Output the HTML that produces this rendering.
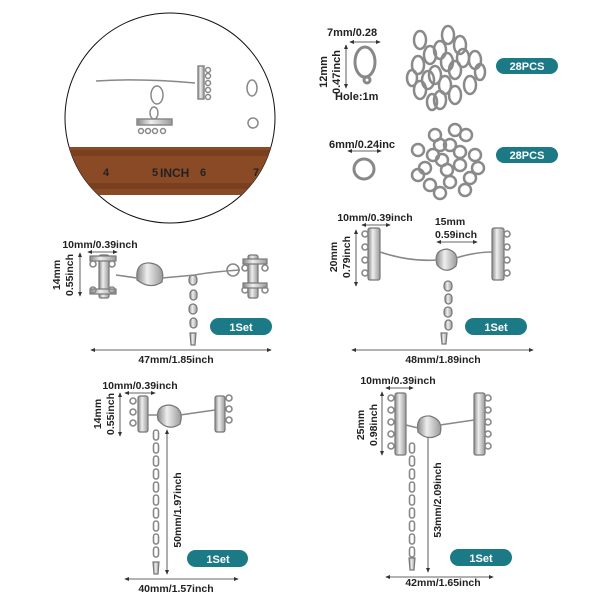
<!DOCTYPE html>
<html><head><meta charset="utf-8"><style>
body{margin:0;background:#fff}
svg{display:block}
text{font-family:"Liberation Sans",sans-serif;font-weight:bold;fill:#222}
.b text{fill:#fff}
</style></head><body>
<svg width="600" height="600" viewBox="0 0 600 600" xmlns="http://www.w3.org/2000/svg">
<defs>
<marker id="a" markerWidth="6" markerHeight="6" refX="5" refY="3" orient="auto-start-reverse"><path d="M0,0.5 L6,3 L0,5.5z" fill="#333"/></marker>
<linearGradient id="m" x1="0" x2="1"><stop offset="0" stop-color="#888"/><stop offset="0.4" stop-color="#eee"/><stop offset="1" stop-color="#999"/></linearGradient>
<clipPath id="c"><circle cx="170" cy="118" r="105"/></clipPath>
<pattern id="ch" width="8" height="13" patternUnits="userSpaceOnUse"><rect x="1.5" y="1" width="5" height="10" rx="2.5" fill="none" stroke="#888" stroke-width="1.6"/></pattern>
</defs>
<circle cx="170" cy="118" r="105" fill="#fff" stroke="#111" stroke-width="1"/>
<g clip-path="url(#c)">
<rect x="60" y="147" width="220" height="48" fill="#8a4a26"/>
<rect x="60" y="150" width="220" height="6" fill="#7a3f1f"/>
<rect x="60" y="183" width="220" height="6" fill="#7a3f1f"/>
<text x="103" y="176" font-size="11" font-weight="normal" style="fill:#222">4</text>
<text x="152" y="176" font-size="11" font-weight="normal" style="fill:#222">5</text>
<text x="160" y="177" font-size="12">INCH</text>
<text x="200" y="176" font-size="11" font-weight="normal" style="fill:#222">6</text>
<text x="253" y="176" font-size="11" font-weight="normal" style="fill:#222">7</text>
</g>
<g fill="none" stroke="#888" stroke-width="1.5">
<path d="M96,81 Q140,78 195,83"/>
<rect x="198" y="66" width="6" height="33" fill="url(#m)"/>
<circle cx="208" cy="70" r="2.5"/><circle cx="208" cy="76" r="2.5"/><circle cx="208" cy="83" r="2.5"/><circle cx="208" cy="90" r="2.5"/><circle cx="208" cy="97" r="2.5"/>
<ellipse cx="157" cy="95" rx="6" ry="9"/>
<ellipse cx="154" cy="113" rx="4" ry="6"/>
<rect x="137" y="119" width="35" height="6" fill="url(#m)"/>
<circle cx="141" cy="131" r="2.5"/><circle cx="148" cy="131" r="2.5"/><circle cx="155" cy="131" r="2.5"/><circle cx="163" cy="131" r="2.5"/>
<ellipse cx="252" cy="88" rx="5" ry="8"/>
<circle cx="253" cy="123" r="5"/>
</g>
<g font-size="11">
<text x="327" y="36">7mm/0.28</text>
<text x="335" y="100">Hole:1m</text>
<text x="329" y="148">6mm/0.24inc</text>
<text transform="translate(327,72) rotate(-90)" text-anchor="middle">12mm</text>
<text transform="translate(340,72) rotate(-90)" text-anchor="middle">0.47inch</text>
</g>
<g stroke="#333" stroke-width="0.8" fill="none">
<line x1="350" y1="42" x2="380" y2="42" marker-start="url(#a)" marker-end="url(#a)"/>
<line x1="346" y1="45" x2="346" y2="88" marker-start="url(#a)" marker-end="url(#a)"/>
<line x1="348" y1="151" x2="381" y2="151" marker-start="url(#a)" marker-end="url(#a)"/>
</g>
<g fill="none" stroke="#888" stroke-width="3">
<ellipse cx="365" cy="62" rx="10" ry="15"/>
<circle cx="367" cy="80" r="3"/>
<circle cx="364" cy="169" r="10"/>
</g>
<g fill="none" stroke="#8a8a8a" stroke-width="2.5">
<ellipse cx="420" cy="40" rx="6" ry="9"/><ellipse cx="440" cy="50" rx="6" ry="9"/><ellipse cx="460" cy="45" rx="6" ry="9"/><ellipse cx="475" cy="60" rx="6" ry="9"/>
<ellipse cx="418" cy="65" rx="6" ry="9"/><ellipse cx="435" cy="75" rx="6" ry="9"/><ellipse cx="455" cy="70" rx="6" ry="9"/><ellipse cx="470" cy="85" rx="6" ry="9"/>
<ellipse cx="420" cy="90" rx="6" ry="9"/><ellipse cx="440" cy="100" rx="6" ry="9"/><ellipse cx="455" cy="95" rx="6" ry="9"/><ellipse cx="430" cy="55" rx="6" ry="9"/>
<ellipse cx="448" cy="35" rx="6" ry="9"/><ellipse cx="428" cy="80" rx="6" ry="9"/><ellipse cx="463" cy="58" rx="6" ry="9"/><ellipse cx="445" cy="85" rx="6" ry="9"/><ellipse cx="412" cy="78" rx="5" ry="8"/><ellipse cx="480" cy="72" rx="5" ry="8"/><ellipse cx="432" cy="102" rx="5" ry="8"/><ellipse cx="447" cy="62" rx="6" ry="9"/>
<circle cx="418" cy="150" r="6"/><circle cx="435" cy="135" r="6"/><circle cx="450" cy="145" r="6"/><circle cx="466" cy="135" r="6"/><circle cx="475" cy="155" r="6"/>
<circle cx="425" cy="168" r="6"/><circle cx="442" cy="160" r="6"/><circle cx="460" cy="165" r="6"/><circle cx="470" cy="178" r="6"/><circle cx="430" cy="185" r="6"/><circle cx="450" cy="182" r="6"/><circle cx="440" cy="145" r="6"/>
<circle cx="455" cy="130" r="6"/><circle cx="433" cy="155" r="6"/><circle cx="460" cy="152" r="6"/><circle cx="418" cy="175" r="6"/><circle cx="447" cy="170" r="6"/><circle cx="465" cy="190" r="6"/><circle cx="440" cy="193" r="6"/><circle cx="478" cy="168" r="6"/>
</g>
<g class="b" font-size="11">
<rect x="496" y="58" width="62" height="16" rx="8" fill="#1c7a87"/><text x="527" y="70" text-anchor="middle">28PCS</text>
<rect x="496" y="147" width="62" height="16" rx="8" fill="#1c7a87"/><text x="527" y="159" text-anchor="middle">28PCS</text>
<rect x="210" y="318" width="62" height="17" rx="8.5" fill="#1c7a87"/><text x="241" y="331" text-anchor="middle">1Set</text>
<rect x="465" y="318" width="62" height="17" rx="8.5" fill="#1c7a87"/><text x="496" y="331" text-anchor="middle">1Set</text>
<rect x="187" y="550" width="61" height="17" rx="8.5" fill="#1c7a87"/><text x="218" y="563" text-anchor="middle">1Set</text>
<rect x="450" y="549" width="62" height="17" rx="8.5" fill="#1c7a87"/><text x="481" y="562" text-anchor="middle">1Set</text>
</g>
<g font-size="10.5">
<text x="100" y="248" text-anchor="middle">10mm/0.39inch</text>
<text x="176" y="363" text-anchor="middle">47mm/1.85inch</text>
<text transform="translate(60,275) rotate(-90)" text-anchor="middle">14mm</text>
<text transform="translate(73,275) rotate(-90)" text-anchor="middle">0.55inch</text>
<text x="375" y="221" text-anchor="middle">10mm/0.39inch</text>
<text x="450" y="225" text-anchor="middle">15mm</text>
<text x="456" y="238" text-anchor="middle">0.59inch</text>
<text x="443" y="363" text-anchor="middle">48mm/1.89inch</text>
<text transform="translate(337,257) rotate(-90)" text-anchor="middle">20mm</text>
<text transform="translate(350,257) rotate(-90)" text-anchor="middle">0.79inch</text>
<text x="140" y="389" text-anchor="middle">10mm/0.39inch</text>
<text x="176" y="592" text-anchor="middle">40mm/1.57inch</text>
<text transform="translate(101,414) rotate(-90)" text-anchor="middle">14mm</text>
<text transform="translate(114,414) rotate(-90)" text-anchor="middle">0.55inch</text>
<text transform="translate(181,510) rotate(-90)" text-anchor="middle">50mm/1.97inch</text>
<text x="398" y="384" text-anchor="middle">10mm/0.39inch</text>
<text x="443" y="586" text-anchor="middle">42mm/1.65inch</text>
<text transform="translate(364,425) rotate(-90)" text-anchor="middle">25mm</text>
<text transform="translate(377,425) rotate(-90)" text-anchor="middle">0.98inch</text>
<text transform="translate(441,500) rotate(-90)" text-anchor="middle">53mm/2.09inch</text>
</g>
<g stroke="#333" stroke-width="0.8" fill="none">
<line x1="88" y1="252" x2="117" y2="252" marker-start="url(#a)" marker-end="url(#a)"/>
<line x1="80" y1="253" x2="80" y2="296" marker-start="url(#a)" marker-end="url(#a)"/>
<line x1="91" y1="350" x2="271" y2="350" marker-start="url(#a)" marker-end="url(#a)"/>
<line x1="362" y1="225" x2="390" y2="225" marker-start="url(#a)" marker-end="url(#a)"/>
<line x1="437" y1="242" x2="477" y2="242" marker-start="url(#a)" marker-end="url(#a)"/>
<line x1="356" y1="230" x2="356" y2="286" marker-start="url(#a)" marker-end="url(#a)"/>
<line x1="352" y1="350" x2="533" y2="350" marker-start="url(#a)" marker-end="url(#a)"/>
<line x1="125" y1="393" x2="155" y2="393" marker-start="url(#a)" marker-end="url(#a)"/>
<line x1="120" y1="393" x2="120" y2="436" marker-start="url(#a)" marker-end="url(#a)"/>
<line x1="167" y1="430" x2="167" y2="574" marker-start="url(#a)" marker-end="url(#a)"/>
<line x1="125" y1="579" x2="238" y2="579" marker-start="url(#a)" marker-end="url(#a)"/>
<line x1="386" y1="388" x2="413" y2="388" marker-start="url(#a)" marker-end="url(#a)"/>
<line x1="382" y1="392" x2="382" y2="455" marker-start="url(#a)" marker-end="url(#a)"/>
<line x1="428" y1="428" x2="428" y2="572" marker-start="url(#a)" marker-end="url(#a)"/>
<line x1="386" y1="577" x2="493" y2="577" marker-start="url(#a)" marker-end="url(#a)"/>
</g>
<g stroke="#777" stroke-width="1.2" fill="url(#m)">
<rect x="99" y="255" width="10" height="43" rx="2"/>
<rect x="90" y="256" width="26" height="5"/><rect x="90" y="289" width="26" height="5"/>
<rect x="248" y="255" width="10" height="43" rx="2"/>
<rect x="243" y="259" width="24" height="5"/><rect x="243" y="283" width="24" height="5"/>
<path d="M137,280 Q135,262 150,263 Q166,265 162,282 Q150,290 137,280z"/>
<rect x="189" y="275" width="8" height="10" rx="4"/><rect x="190" y="290" width="7" height="10" rx="3.5"/><rect x="189" y="304" width="8" height="10" rx="4"/><rect x="190" y="318" width="7" height="10" rx="3.5"/>
<path d="M190,333 L196,333 L195,345 L191,345z"/>
<rect x="368" y="228" width="12" height="52" rx="2"/>
<rect x="492" y="228" width="12" height="52" rx="2"/>
<path d="M437,265 Q433,250 447,249 Q460,252 456,266 Q446,275 437,265z"/>
<rect x="444" y="281" width="8" height="10" rx="4"/><rect x="445" y="294" width="7" height="10" rx="3.5"/><rect x="444" y="307" width="8" height="10" rx="4"/><rect x="445" y="320" width="7" height="10" rx="3.5"/>
<path d="M441,333 L447,333 L446,344 L442,344z"/>
<rect x="138" y="396" width="10" height="36" rx="2"/>
<rect x="215" y="396" width="10" height="36" rx="2"/>
<path d="M158,420 Q155,405 170,405 Q185,408 180,424 Q168,432 158,420z"/>
<rect x="395" y="393" width="11" height="62" rx="2"/>
<rect x="474" y="393" width="11" height="62" rx="2"/>
<path d="M418,432 Q415,415 430,416 Q444,420 440,434 Q428,442 418,432z"/>
<path d="M153,562 L159,562 L158,574 L154,574z"/>
<path d="M409,558 L415,558 L414,570 L410,570z"/>
</g>
<rect x="152" y="429" width="8" height="130" fill="url(#ch)"/>
<rect x="408" y="442" width="8" height="117" fill="url(#ch)"/>
<g fill="none" stroke="#888" stroke-width="1.6">
<circle cx="93" cy="264" r="3"/><circle cx="112" cy="264" r="3"/><circle cx="93" cy="290" r="3"/><circle cx="112" cy="290" r="3"/>
<circle cx="245" cy="268" r="3"/><circle cx="265" cy="268" r="3"/><circle cx="245" cy="290" r="3"/><circle cx="265" cy="290" r="3"/>
<path d="M116,275 L137,278 M162,278 L195,275 Q210,272 240,270"/>
<circle cx="233" cy="270" r="6"/>
<circle cx="365" cy="234" r="3"/><circle cx="365" cy="247" r="3"/><circle cx="365" cy="260" r="3"/><circle cx="365" cy="273" r="3"/>
<circle cx="507" cy="234" r="3"/><circle cx="507" cy="247" r="3"/><circle cx="507" cy="260" r="3"/><circle cx="507" cy="273" r="3"/>
<path d="M380,252 Q410,262 437,260 M456,258 Q475,252 492,252"/>
<circle cx="133" cy="401" r="3"/><circle cx="133" cy="412" r="3"/><circle cx="133" cy="423" r="3"/>
<circle cx="229" cy="398" r="3"/><circle cx="229" cy="409" r="3"/><circle cx="229" cy="420" r="3"/>
<path d="M148,415 L158,415 M180,415 L215,410"/>
<circle cx="391" cy="398" r="3"/><circle cx="391" cy="410" r="3"/><circle cx="391" cy="422" r="3"/><circle cx="391" cy="434" r="3"/><circle cx="391" cy="446" r="3"/>
<circle cx="488" cy="398" r="3"/><circle cx="488" cy="410" r="3"/><circle cx="488" cy="422" r="3"/><circle cx="488" cy="434" r="3"/><circle cx="488" cy="446" r="3"/>
<path d="M406,425 L418,428 M440,425 L474,420"/>
</g>
</svg>
</body></html>
